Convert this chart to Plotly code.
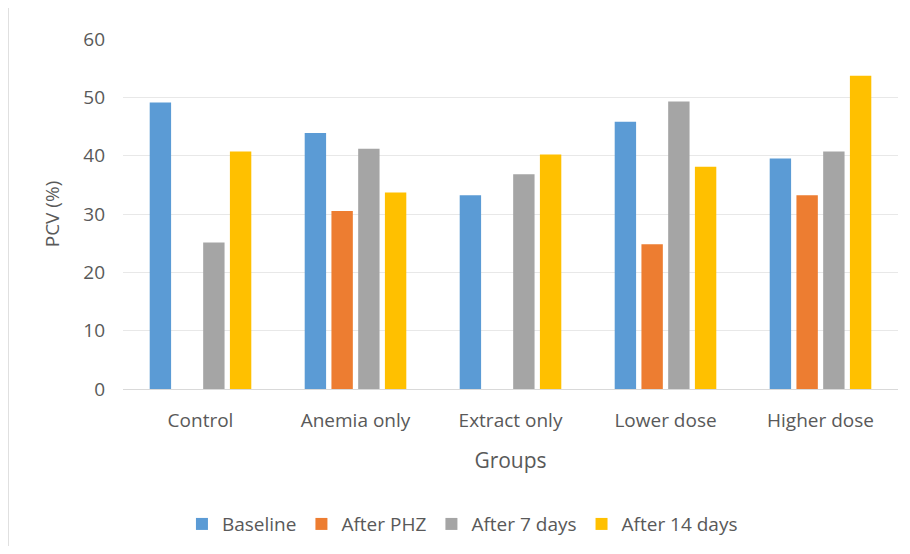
import plotly.graph_objects as go

groups = ["Control", "Anemia only", "Extract only", "Lower dose", "Higher dose"]
baseline = [49.1, 43.9, 33.2, 45.8, 39.5]
after_phz = [None, 30.5, None, 24.8, 33.2]
after_7 = [25.1, 41.2, 36.8, 49.3, 40.7]
after_14 = [40.7, 33.7, 40.2, 38.1, 53.7]

series = [
    ("Baseline", baseline, "#5B9BD5"),
    ("After PHZ", after_phz, "#ED7D31"),
    ("After 7 days", after_7, "#A5A5A5"),
    ("After 14 days", after_14, "#FFC000"),
]

fig = go.Figure()
for name, vals, col in series:
    fig.add_trace(go.Bar(x=groups, y=vals, name=name, marker=dict(color=col, line=dict(width=0))))

font_fam = "Open Sans, Liberation Sans, sans-serif"
fig.update_layout(
    width=894, height=538,
    margin=dict(l=115, r=4, t=31, b=156),
    paper_bgcolor="white", plot_bgcolor="white",
    barmode="group", bargap=0.31, bargroupgap=0.2,
    font=dict(family=font_fam, color="#595959", size=19),
    xaxis=dict(title=dict(text="Groups", font=dict(size=21), standoff=21),
               tickfont=dict(size=19), showline=True, linecolor="#D9D9D9", ticks="",
               ticklabelstandoff=14),
    yaxis=dict(title=dict(text="PCV (%)", font=dict(size=19), standoff=18),
               range=[0, 60], dtick=10, tickfont=dict(size=19),
               gridcolor="#E8E8E8", zeroline=False, ticks="", ticklabelstandoff=17),
    legend=dict(orientation="h", x=0.438, xanchor="center", y=-0.382, yanchor="middle",
                font=dict(size=19), itemwidth=30, traceorder="normal"),
    shapes=[dict(type="line", xref="paper", yref="paper", x0=-0.148, x1=-0.148, y0=-0.45, y1=1.09,
                 line=dict(color="#D9D9D9", width=1))],
)

fig.write_html("out.html")
